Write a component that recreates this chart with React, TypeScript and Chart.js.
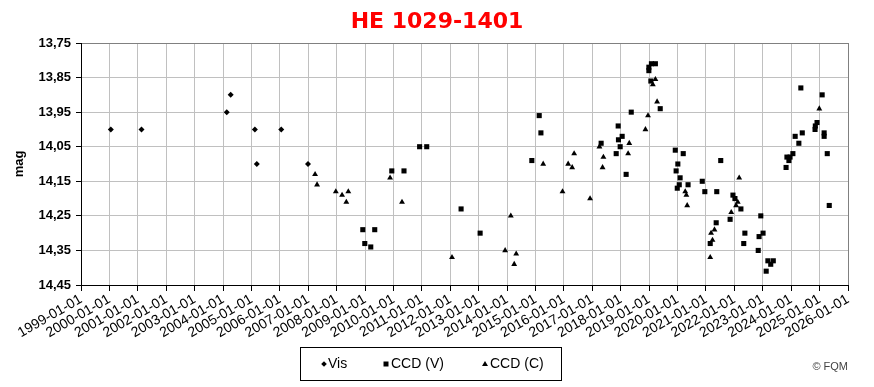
import { useEffect, useRef } from 'react';
import { Chart, registerables } from 'chart.js';

Chart.register(...registerables);

const chartTitle = 'HE 1029-1401';
const yAxisTitle = 'mag';
const credit = '© FQM';
const legendLabels = ['Vis', 'CCD (V)', 'CCD (C)'];

const yTicks = [13.75, 13.85, 13.95, 14.05, 14.15, 14.25, 14.35, 14.45];
const xYears = [
  1999, 2000, 2001, 2002, 2003, 2004, 2005, 2006, 2007, 2008, 2009, 2010, 2011, 2012,
  2013, 2014, 2015, 2016, 2017, 2018, 2019, 2020, 2021, 2022, 2023, 2024, 2025, 2026,
];

// Vis (diamonds): decimal year, magnitude
const visX = [2000.05, 2001.13, 2004.13, 2004.27, 2005.12, 2005.19, 2006.05, 2006.99];
const visY = [14.0, 14.0, 13.95, 13.9, 14.0, 14.1, 14.0, 14.1];

// CCD (V) (squares)
const ccdVX = [
  2008.92, 2008.99, 2009.2, 2009.34, 2009.94, 2010.37, 2010.92, 2011.17, 2012.38, 2013.05,
  2014.87, 2015.13, 2015.19, 2017.31, 2017.84, 2017.92, 2017.91, 2017.98, 2018.05, 2018.19,
  2018.37, 2018.99, 2018.99, 2019.08, 2019.22, 2019.06, 2019.39, 2019.92, 2019.95, 2020.01,
  2020.09, 2020.06, 2019.99, 2020.2, 2020.37, 2020.87, 2020.96, 2021.38, 2021.52, 2021.15,
  2021.36, 2021.85, 2021.95, 2022.02, 2022.23, 2022.37, 2022.33, 2022.84, 2022.87, 2022.93,
  2023.01, 2023.12, 2023.18, 2023.28, 2023.37, 2023.82, 2023.85, 2023.92, 2023.96, 2024.06,
  2024.14, 2024.27, 2024.39, 2024.34, 2024.84, 2024.85, 2024.91, 2025.09, 2025.16, 2025.16,
  2025.27, 2025.34,
];
const ccdVY = [
  14.29, 14.33, 14.34, 14.29, 14.12, 14.12, 14.05, 14.05, 14.23, 14.3,
  14.09, 13.96, 14.01, 14.04, 14.07, 14.03, 13.99, 14.05, 14.02, 14.13,
  13.95, 13.83, 13.82, 13.81, 13.81, 13.86, 13.94, 14.06, 14.12, 14.1,
  14.14, 14.16, 14.17, 14.07, 14.16, 14.15, 14.18, 14.18, 14.09, 14.33,
  14.27, 14.26, 14.19, 14.2, 14.23, 14.3, 14.33, 14.35, 14.31, 14.25,
  14.3, 14.41, 14.38, 14.39, 14.38, 14.11, 14.08, 14.09, 14.08, 14.07,
  14.02, 14.04, 14.01, 13.88, 14.0, 13.99, 13.98, 13.9, 14.01, 14.02,
  14.07, 14.22,
];

// CCD (C) (triangles)
const ccdCX = [
  2007.24, 2007.31, 2007.97, 2008.19, 2008.41, 2008.34, 2009.88, 2010.3, 2012.06, 2013.93,
  2014.13, 2014.32, 2014.25, 2015.27, 2015.95, 2016.15, 2016.29, 2016.36, 2016.92, 2017.25,
  2017.39, 2017.36, 2018.3, 2018.26, 2018.87, 2018.96, 2019.13, 2019.22, 2019.28, 2020.27,
  2020.31, 2020.34, 2021.15, 2021.18, 2021.23, 2021.3, 2021.89, 2022.06, 2022.12, 2022.17,
  2024.99,
];
const ccdCY = [
  14.13, 14.16, 14.18, 14.19, 14.18, 14.21, 14.14, 14.21, 14.37, 14.35,
  14.25, 14.36, 14.39, 14.1, 14.18, 14.1, 14.11, 14.07, 14.2, 14.05,
  14.08, 14.11, 14.04, 14.07, 14.0, 13.96, 13.87, 13.855, 13.92, 14.18,
  14.19, 14.22, 14.37, 14.3, 14.32, 14.29, 14.24, 14.22, 14.21, 14.14,
  13.94,
];

const toPoints = (xs: number[], ys: number[]) => xs.map((x, i) => ({ x, y: ys[i] }));

const SANS = "'Liberation Sans', Arial, sans-serif";

function drawMarker(ctx: CanvasRenderingContext2D, kind: string, x: number, y: number) {
  ctx.beginPath();
  if (kind === 'diamond') {
    const r = 2.8;
    ctx.moveTo(x, y - r);
    ctx.lineTo(x + r, y);
    ctx.lineTo(x, y + r);
    ctx.lineTo(x - r, y);
  } else if (kind === 'square') {
    ctx.rect(x - 2.5, y - 2.5, 5, 5);
  } else {
    ctx.moveTo(x, y - 3);
    ctx.lineTo(x + 3, y + 2);
    ctx.lineTo(x - 3, y + 2);
  }
  ctx.closePath();
  ctx.fill();
}

const legendPlugin = {
  id: 'fqmLegend',
  afterDraw(chart: any) {
    const ctx: CanvasRenderingContext2D = chart.ctx;
    ctx.save();
    ctx.strokeStyle = '#000';
    ctx.lineWidth = 1;
    ctx.strokeRect(300.5, 347.5, 261, 33);
    ctx.fillStyle = '#000';
    const kinds = ['diamond', 'square', 'triangle'];
    const mx = [324, 386, 485];
    const tx = [328, 391, 490];
    ctx.font = `14px ${SANS}`;
    ctx.textBaseline = 'middle';
    ctx.textAlign = 'left';
    legendLabels.forEach((label, i) => {
      drawMarker(ctx, kinds[i], mx[i], 364);
      ctx.fillText(label, tx[i], 364.5);
    });
    ctx.font = `11px ${SANS}`;
    ctx.fillStyle = '#444';
    ctx.textAlign = 'right';
    ctx.textBaseline = 'alphabetic';
    ctx.fillText(credit, 848, 370);
    ctx.restore();
  },
};

export default function App() {
  const ref = useRef<HTMLCanvasElement>(null);

  useEffect(() => {
    if (!ref.current) return;
    const chart = new Chart(ref.current, {
      type: 'scatter',
      data: {
        datasets: [
          {
            label: legendLabels[0],
            data: toPoints(visX, visY),
            pointStyle: 'rectRot',
            pointRadius: 3,
            backgroundColor: '#000',
            borderColor: '#000',
            borderWidth: 0,
          },
          {
            label: legendLabels[1],
            data: toPoints(ccdVX, ccdVY),
            pointStyle: 'rect',
            pointRadius: 3.6,
            backgroundColor: '#000',
            borderColor: '#000',
            borderWidth: 0,
          },
          {
            label: legendLabels[2],
            data: toPoints(ccdCX, ccdCY),
            pointStyle: 'triangle',
            pointRadius: 3.4,
            backgroundColor: '#000',
            borderColor: '#000',
            borderWidth: 0,
          },
        ],
      },
      options: {
        animation: false,
        responsive: false,
        layout: { padding: { left: 0, right: 0, top: 0, bottom: 0 } },
        plugins: {
          legend: { display: false },
          tooltip: { enabled: false },
          title: {
            display: true,
            text: chartTitle,
            color: '#ff0000',
            font: { family: "'DejaVu Sans', Verdana, sans-serif", size: 22, weight: 'bold' },
            padding: { top: 9.5, bottom: 7.1 },
          },
        },
        scales: {
          x: {
            type: 'linear',
            min: xYears[0],
            max: xYears[xYears.length - 1],
            afterBuildTicks: (scale: any) => {
              scale.ticks = xYears.map((v) => ({ value: v }));
            },
            afterFit: (scale: any) => {
              scale.height = 102;
            },
            ticks: {
              autoSkip: false,
              minRotation: 30,
              maxRotation: 30,
              padding: 0,
              color: '#000',
              font: { family: SANS, size: 14 },
              callback: (v: any) => `${v}-01-01`,
            },
            grid: {
              color: (c: any) => (c.tick && c.tick.value === xYears[xYears.length - 1] ? '#808080' : '#c0c0c0'),
              tickColor: '#000',
              tickLength: 6,
              lineWidth: 1,
            },
            border: { display: true, color: '#000', width: 1 },
          },
          y: {
            type: 'linear',
            reverse: true,
            min: yTicks[0],
            max: yTicks[yTicks.length - 1],
            afterBuildTicks: (scale: any) => {
              scale.ticks = yTicks.map((v) => ({ value: v }));
            },
            afterFit: (scale: any) => {
              scale.width = 81;
            },
            ticks: {
              padding: 5,
              color: '#000',
              font: { family: SANS, size: 13, weight: 'bold' },
              callback: (v: any) => Number(v).toFixed(2).replace('.', ','),
            },
            grid: {
              color: (c: any) => (c.tick && c.tick.value === yTicks[0] ? '#808080' : '#c0c0c0'),
              tickColor: '#000',
              tickLength: 5,
              lineWidth: 1,
            },
            border: { display: true, color: '#000', width: 1 },
            title: {
              display: true,
              text: yAxisTitle,
              color: '#000',
              font: { family: SANS, size: 13, weight: 'bold' },
              padding: { top: 12, bottom: 0 },
            },
          },
          spacer: {
            type: 'linear',
            position: 'right',
            display: true,
            afterFit: (scale: any) => {
              scale.width = 26;
            },
            ticks: { display: false },
            grid: { display: false, drawTicks: false },
            border: { display: false },
          },
        },
      },
      plugins: [legendPlugin],
    });
    return () => chart.destroy();
  }, []);

  return (
    <div style={{ position: 'absolute', left: 0, top: 0, width: 874, height: 387, background: '#fff' }}>
      <canvas ref={ref} width={874} height={387} style={{ width: 874, height: 387, display: 'block' }} />
    </div>
  );
}
